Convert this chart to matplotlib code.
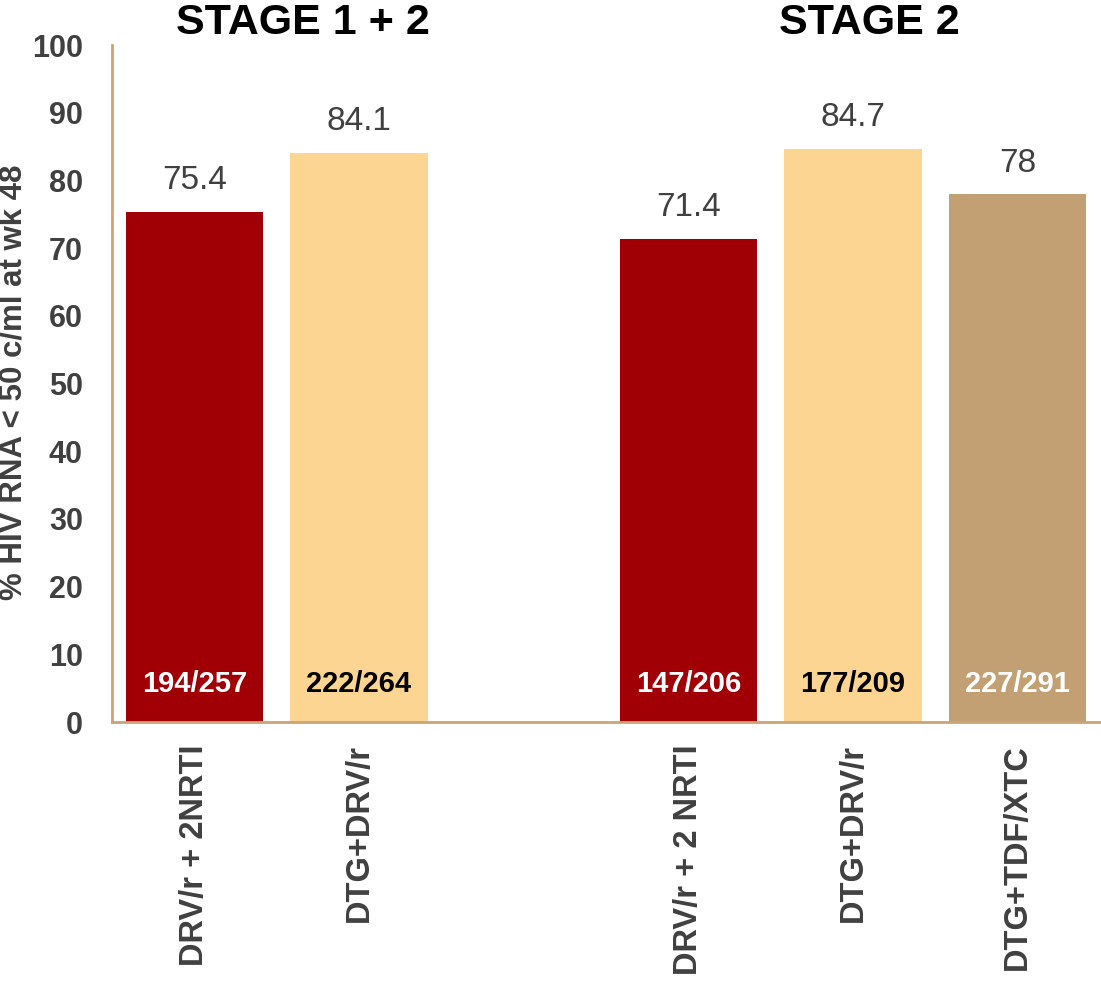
import matplotlib
matplotlib.use("Agg")
import matplotlib.pyplot as plt

plt.rcParams['font.family'] = ['Liberation Sans', 'DejaVu Sans']

positions = [0, 1, 3, 4, 5]
values = [75.4, 84.1, 71.4, 84.7, 78]
value_labels = ["75.4", "84.1", "71.4", "84.7", "78"]
counts = ["194/257", "222/264", "147/206", "177/209", "227/291"]
categories = ["DRV/r + 2NRTI", "DTG+DRV/r", "DRV/r + 2 NRTI", "DTG+DRV/r", "DTG+TDF/XTC"]
colors = ["#A00005", "#FCD592", "#A00005", "#FCD592", "#C2A073"]
count_colors = ["white", "black", "white", "black", "white"]
group_titles = ["STAGE 1 + 2", "STAGE 2"]
group_title_x = [0.66, 4.1]
yticks = list(range(0, 101, 10))

fig = plt.figure(figsize=(11.01, 9.81), dpi=100)
ax = fig.add_axes([112/1101, 1-722/981, 988/1101, 677/981])

ax.bar(positions, values, width=0.836, color=colors)
ax.set_xlim(-0.5, 5.5)
ax.set_ylim(0, 100)

for s in ['top', 'right']:
    ax.spines[s].set_visible(False)
for s in ['left', 'bottom']:
    ax.spines[s].set_color('#C8A678')
    ax.spines[s].set_linewidth(2)

ax.set_yticks(yticks)
ax.set_yticklabels([str(t) for t in yticks], fontsize=22, fontweight='bold', color='#404040')
ax.tick_params(axis='y', length=0, pad=21)
ax.set_xticks(positions)
ax.set_xticklabels(categories, rotation=90, fontsize=23.5, fontweight='bold', color='#404040', va='top', ha='center')
ax.tick_params(axis='x', length=0, pad=16)

for x, v, lab in zip(positions, values, value_labels):
    ax.annotate(lab, (x, v), xytext=(0, 11), textcoords='offset points',
                ha='center', va='bottom', fontsize=24, color='#404040')

for x, c, cc in zip(positions, counts, count_colors):
    ax.text(x, 5.6, c, ha='center', va='center', fontsize=21, fontweight='bold', color=cc)

for x, t in zip(group_title_x, group_titles):
    ax.text(x, 103.2, t, ha='center', va='center', fontsize=31, fontweight='bold', color='black', clip_on=False)

ax.set_ylabel("% HIV RNA < 50 c/ml at wk 48", fontsize=22.5, fontweight='bold', color='#404040')
ax.yaxis.set_label_coords(-0.085, 0.502)

fig.savefig("out.png", dpi=100)
